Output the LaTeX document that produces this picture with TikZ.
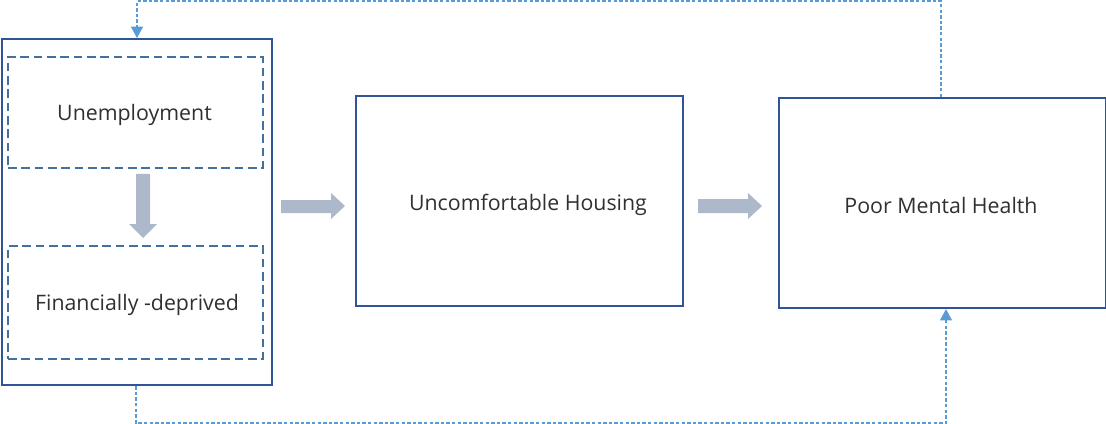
\documentclass[tikz,border=0pt]{standalone}
\usepackage{fontspec}
\setmainfont{Open Sans}
\usetikzlibrary{arrows.meta,calc}
\definecolor{boxblue}{HTML}{2F5597}
\definecolor{dashblue}{HTML}{41719C}
\definecolor{blockgray}{HTML}{ADB9CA}
\definecolor{fbblue}{HTML}{5B9BD5}
\definecolor{txt}{HTML}{303030}
\begin{document}
\begin{tikzpicture}[x=0.75pt,y=-0.75pt,
  mainbox/.style={draw=boxblue,line width=1.6pt,rectangle,inner sep=0pt,anchor=north west},
  innerbox/.style={draw=dashblue,line width=1.5pt,dash pattern=on 6.5pt off 3.5pt,rectangle,inner sep=0pt,anchor=north west},
  lbl/.style={anchor=base,text=txt,font=\fontsize{16}{19}\selectfont,inner sep=0pt},
  blockarrow/.style={fill=blockgray,draw=none},
  fb/.style={draw=fbblue,line width=0.9pt,dash pattern=on 2.6pt off 1.6pt},
  fbtip/.style={-{Triangle[length=8.5pt,width=9pt]}}
]
\useasboundingbox (0,0) rectangle (1106,424);
% boxes
\node[mainbox,minimum width=270*0.75pt,minimum height=346*0.75pt] (outer) at (1,38) {};
\node[innerbox,minimum width=255*0.75pt,minimum height=111*0.75pt] (unemp) at (7,56) {};
\node[innerbox,minimum width=255*0.75pt,minimum height=113*0.75pt] (fin) at (7,245) {};
\node[mainbox,minimum width=327*0.75pt,minimum height=210*0.75pt] (house) at (355,95) {};
\node[mainbox,minimum width=327*0.75pt,minimum height=210*0.75pt] (poor) at (778,97) {};
% labels
\node[lbl] (tunemp) at (134.5,121) {Unemployment};
\node[lbl] (tfin) at (137,310) {Financially -deprived};
\node[lbl] (thouse) at (528,210) {Uncomfortable Housing};
\node[lbl] (tpoor) at (941,213) {Poor Mental Health};
% block arrows
\fill[blockarrow] (136,174) -- (150,174) -- (150,224) -- (157,224) -- (143,238) -- (129,224) -- (136,224) -- cycle;
\fill[blockarrow] (281,200) -- (331,200) -- (331,193) -- (345,206) -- (331,219) -- (331,213) -- (281,213) -- cycle;
\fill[blockarrow] (698,199) -- (748,199) -- (748,193) -- (762,206) -- (748,219) -- (748,213) -- (698,213) -- cycle;
% feedback connectors
\coordinate (c1) at (941,1);
\coordinate (c2) at (137,1);
\draw[fb,fbtip] (poor.north -| c1) -- (c1) -- (c2) -- (outer.north -| c2);
\coordinate (d1) at (136,423);
\coordinate (d2) at (946,423);
\draw[fb,fbtip] (outer.south -| d1) -- (d1) -- (d2) -- (poor.south -| d2);
\end{tikzpicture}
\end{document}
